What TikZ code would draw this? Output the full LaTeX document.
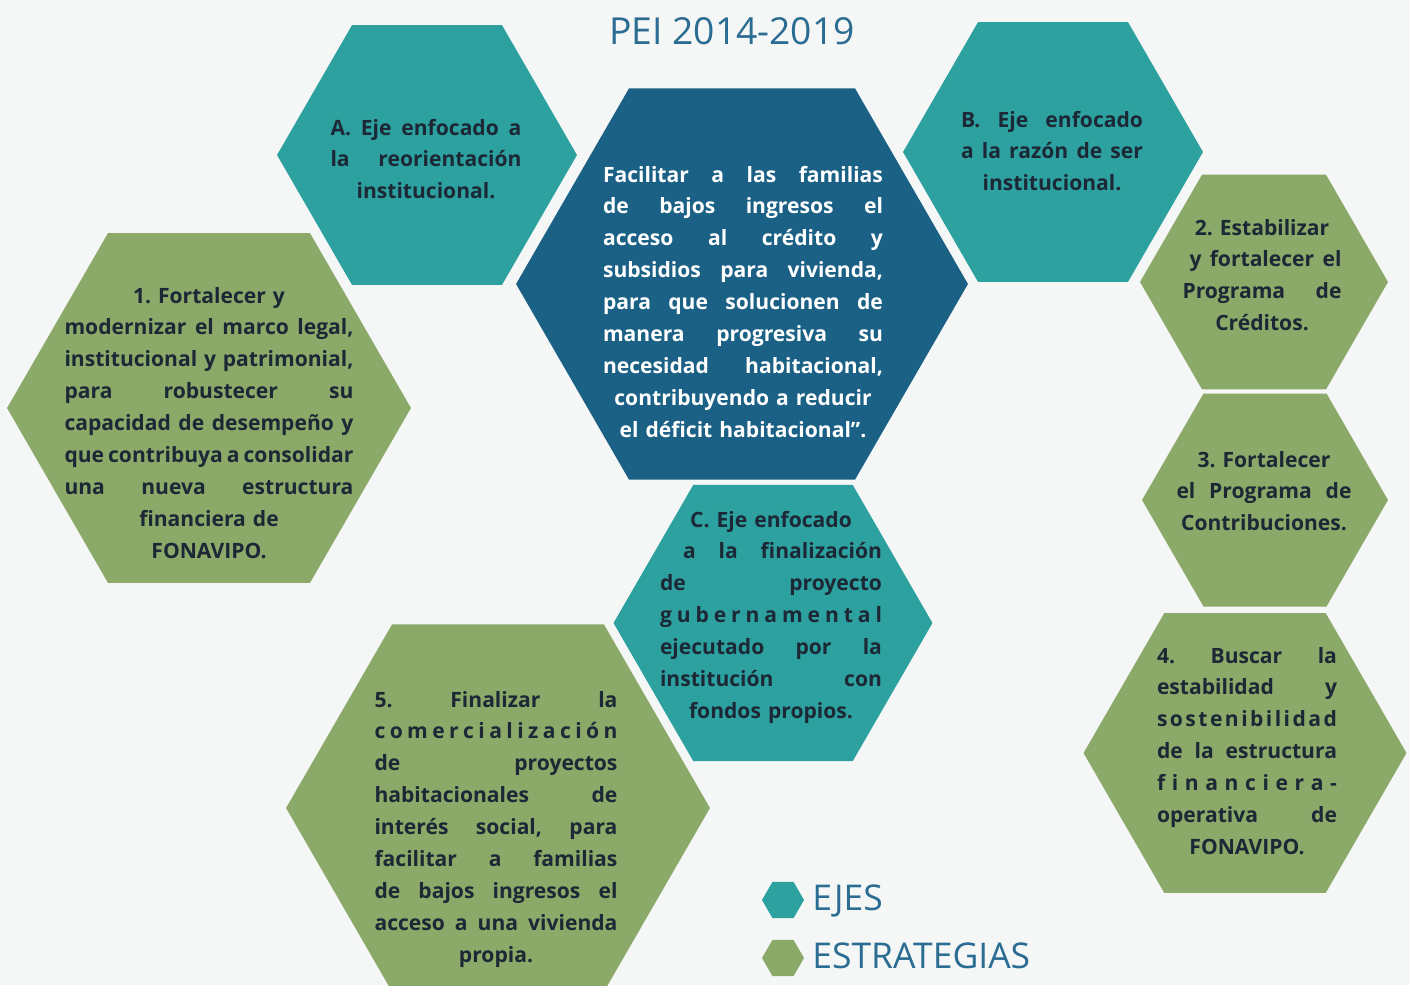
\documentclass[tikz,border=0pt]{standalone}
\usepackage{fontspec}
\setmainfont{Open Sans}
\usetikzlibrary{shapes.geometric}
\definecolor{PeiTeal}{HTML}{2DA19F}
\definecolor{PeiNavy}{HTML}{1B6186}
\definecolor{PeiGreen}{HTML}{8BA968}
\definecolor{PeiInk}{HTML}{1C2836}
\definecolor{PeiBlue}{HTML}{2B6C92}
\definecolor{PeiBack}{HTML}{F5F6F6}
\frenchspacing
% justified line
\newcommand{\jl}[1]{\makebox[\linewidth][s]{%
    \spaceskip=0.26em plus 1fil minus 0.12em\xspaceskip=\spaceskip #1}}

\begin{document}
\begin{tikzpicture}[x=0.02cm, y=-0.02cm,
    hexa/.style={regular polygon, regular polygon sides=6, inner sep=0pt, outer sep=0pt},
    eje/.style={hexa, fill=PeiTeal},
    estr/.style={hexa, fill=PeiGreen},
    txt/.style={anchor=base, inner sep=0pt, align=center, text=PeiInk,
        font=\bfseries\fontsize{12}{18.2}\selectfont}]
    \useasboundingbox (0,0) rectangle (1410,985);
    \clip (0,0) rectangle (1410,985);
    \fill[PeiBack] (0,0) rectangle (1410,985);

    % Title
    \node[anchor=base, text=PeiBlue, font=\fontsize{21.2}{26}\selectfont] (title) at (732,44) {PEI 2014-2019};

    % Hexagons
    \node[hexa, fill=PeiNavy, minimum size=9.04cm] (mision) at (742,284) {};
    \node[eje, minimum size=6cm] (ejeA) at (427,155) {};
    \node[eje, minimum size=6cm] (ejeB) at (1053,152) {};
    \node[eje, minimum size=6.38cm] (ejeC) at (773,623) {};
    \node[estr, minimum size=8.08cm] (est1) at (209,408) {};
    \node[estr, minimum size=4.96cm] (est2) at (1264,282) {};
    \node[estr, minimum size=4.92cm] (est3) at (1265,500) {};
    \node[estr, minimum size=6.46cm] (est4) at (1245,753) {};
    \node[estr, minimum size=8.48cm] (est5) at (498,808) {};

    % Texts
    \node[txt, text=white, text width=5.6cm] (tMision) at (743,182) {%
        \jl{Facilitar a las familias}\\
        \jl{de bajos ingresos el}\\
        \jl{acceso al crédito y}\\
        \jl{subsidios para vivienda,}\\
        \jl{para que solucionen de}\\
        \jl{manera progresiva su}\\
        \jl{necesidad habitacional,}\\
        contribuyendo a reducir\\
        el déficit habitacional”.};
    \node[txt, text width=3.82cm] (tA) at (426,135) {%
        \jl{A. Eje enfocado a}\\
        \jl{la reorientación}\\
        institucional.};
    \node[txt, text width=3.64cm] (tB) at (1052,127) {%
        \jl{B. Eje enfocado}\\
        \jl{a la razón de ser}\\
        institucional.};
    \node[txt, text width=4.44cm] (tC) at (771,527) {%
        C. Eje enfocado\\
        \jl{\hspace*{0.46cm}a la finalización}\\
        \jl{de proyecto}\\
        \jl{g\hfill u\hfill b\hfill e\hfill r\hfill n\hfill a\hfill m\hfill e\hfill n\hfill t\hfill a\hfill l}\\
        \jl{ejecutado por la}\\
        \jl{institución con}\\
        fondos propios.};
    \node[txt, text width=5.78cm] (t1) at (209,303) {%
        1. Fortalecer y\\
        \jl{modernizar el marco legal,}\\
        \jl{institucional y patrimonial,}\\
        \jl{para robustecer su}\\
        \jl{capacidad de desempeño y}\\
        \jl{que contribuya a consolidar}\\
        \jl{una nueva estructura}\\
        financiera de\\
        FONAVIPO.};
    \node[txt, text width=3.18cm] (t2) at (1262,235) {%
        2. Estabilizar\\
        \jl{\hspace*{0.14cm}y fortalecer el}\\
        \jl{Programa de}\\
        Créditos.};
    \node[txt, text width=3.5cm] (t3) at (1264,467) {%
        3. Fortalecer\\
        \jl{el Programa de}\\
        Contribuciones.};
    \node[txt, text width=3.6cm] (t4) at (1247,663) {%
        \jl{4. Buscar la}\\
        \jl{estabilidad y}\\
        \jl{s\hfill o\hfill s\hfill t\hfill e\hfill n\hfill i\hfill b\hfill i\hfill l\hfill i\hfill d\hfill a\hfill d}\\
        \jl{de la estructura}\\
        \jl{f\hfill i\hfill n\hfill a\hfill n\hfill c\hfill i\hfill e\hfill r\hfill a\hfill -}\\
        \jl{operativa de}\\
        FONAVIPO.};
    \node[txt, text width=4.86cm] (t5) at (496,707) {%
        \jl{5. Finalizar la}\\
        \jl{c\hfill o\hfill m\hfill e\hfill r\hfill c\hfill i\hfill a\hfill l\hfill i\hfill z\hfill a\hfill c\hfill i\hfill ó\hfill n}\\
        \jl{de proyectos}\\
        \jl{habitacionales de}\\
        \jl{interés social, para}\\
        \jl{facilitar a familias}\\
        \jl{de bajos ingresos el}\\
        \jl{acceso a una vivienda}\\
        propia.};

    % Legend
    \node[eje, minimum size=0.84cm] (lgEje) at (783,900) {};
    \node[estr, minimum size=0.84cm] (lgEst) at (783,958) {};
    \node[anchor=base west, inner sep=0pt, text=PeiBlue, font=\fontsize{20.2}{24}\selectfont] (lgEjeTxt) at (812,910) {EJES};
    \node[anchor=base west, inner sep=0pt, text=PeiBlue, font=\fontsize{20.2}{24}\selectfont] (lgEstTxt) at (812,968) {ESTRATEGIAS};
\end{tikzpicture}
\end{document}
